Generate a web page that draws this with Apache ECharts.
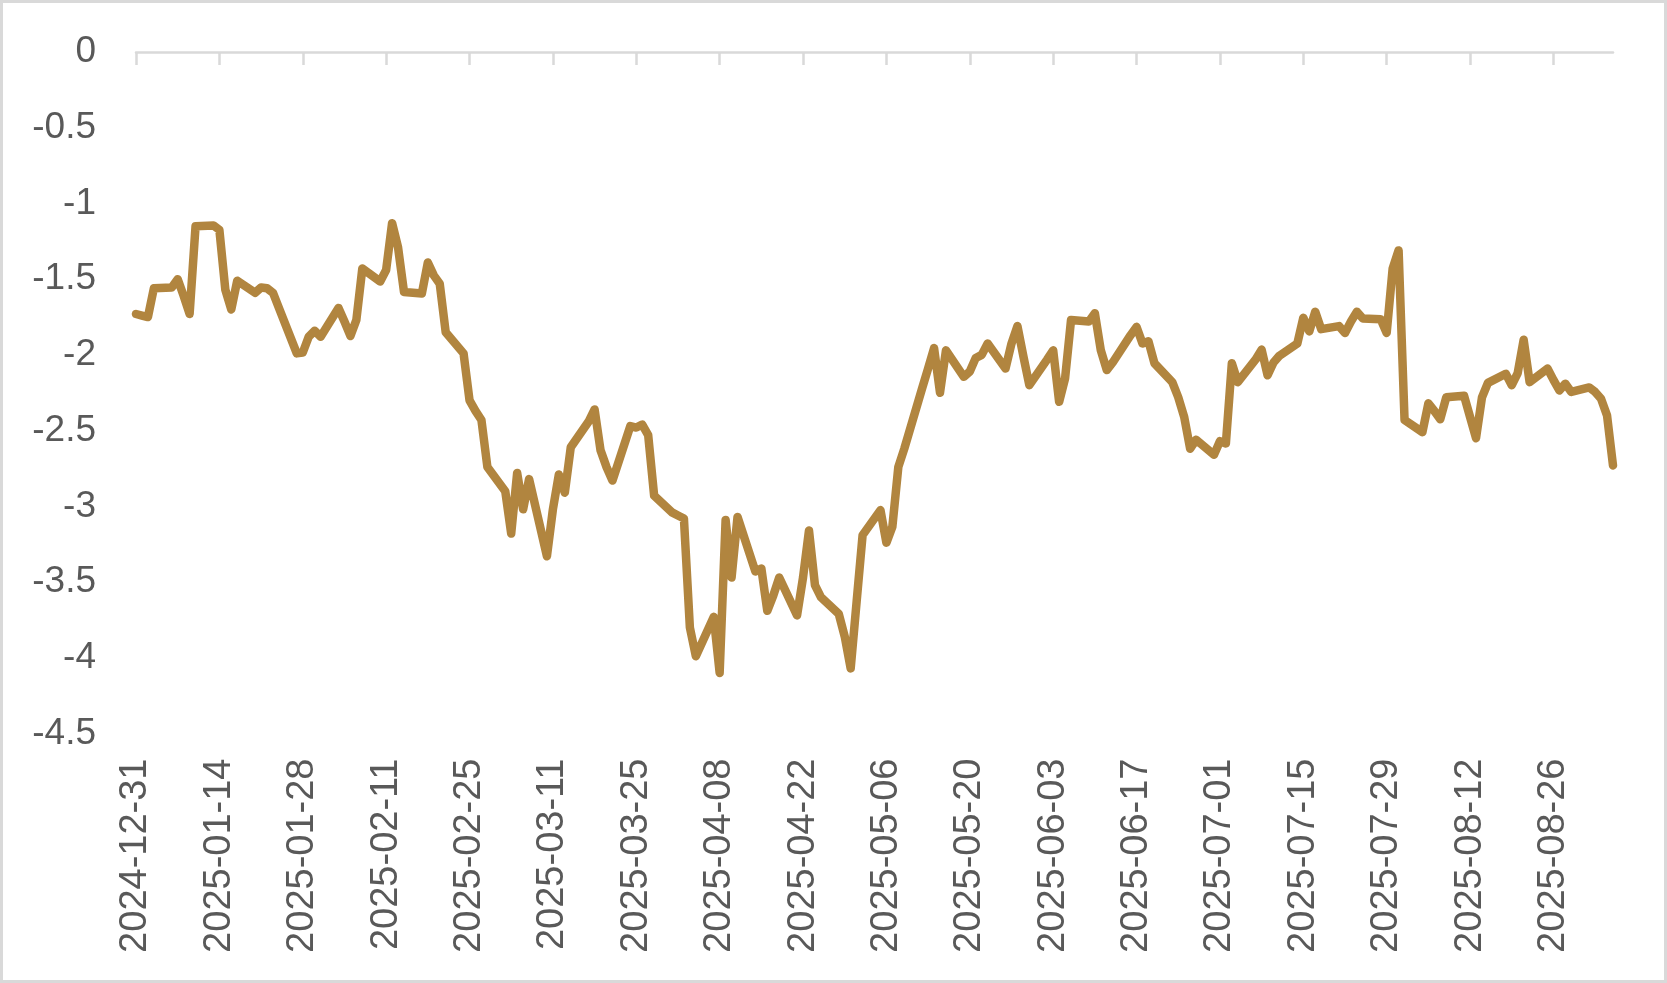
<!DOCTYPE html>
<html>
<head>
<meta charset="utf-8">
<title>spread</title>
<script src="https://cdn.jsdelivr.net/npm/echarts@6.0.0/dist/echarts.min.js"></script>
<style>
  html, body { margin: 0; padding: 0; background: #fff; }
  #wrap { position: relative; width: 1667px; height: 983px; }
  #chart { width: 1667px; height: 983px; }
  /* light grey frame round the whole picture */
  #frame {
    position: absolute; left: 0; top: 0; width: 1667px; height: 983px;
    box-sizing: border-box; border: 3px solid #d9d9d9; pointer-events: none;
  }
</style>
</head>
<body>
<div id="wrap">
  <div id="chart"></div>
  <div id="frame"></div>
</div>
<script>
// trading days (one week per line)
const dates = [
  '2024-12-31', '2025-01-01', '2025-01-02', '2025-01-03',
  '2025-01-06', '2025-01-07', '2025-01-08', '2025-01-09', '2025-01-10',
  '2025-01-13', '2025-01-14', '2025-01-15', '2025-01-16', '2025-01-17',
  '2025-01-20', '2025-01-21', '2025-01-22', '2025-01-23', '2025-01-24',
  '2025-01-27', '2025-01-28', '2025-01-29', '2025-01-30', '2025-01-31',
  '2025-02-03', '2025-02-04', '2025-02-05', '2025-02-06', '2025-02-07',
  '2025-02-10', '2025-02-11', '2025-02-12', '2025-02-13', '2025-02-14',
  '2025-02-17', '2025-02-18', '2025-02-19', '2025-02-20', '2025-02-21',
  '2025-02-24', '2025-02-25', '2025-02-26', '2025-02-27', '2025-02-28',
  '2025-03-03', '2025-03-04', '2025-03-05', '2025-03-06', '2025-03-07',
  '2025-03-10', '2025-03-11', '2025-03-12', '2025-03-13', '2025-03-14',
  '2025-03-17', '2025-03-18', '2025-03-19', '2025-03-20', '2025-03-21',
  '2025-03-24', '2025-03-25', '2025-03-26', '2025-03-27', '2025-03-28',
  '2025-03-31', '2025-04-01', '2025-04-02', '2025-04-03', '2025-04-04',
  '2025-04-07', '2025-04-08', '2025-04-09', '2025-04-10', '2025-04-11',
  '2025-04-14', '2025-04-15', '2025-04-16', '2025-04-17', '2025-04-18',
  '2025-04-21', '2025-04-22', '2025-04-23', '2025-04-24', '2025-04-25',
  '2025-04-28', '2025-04-29', '2025-04-30', '2025-05-01', '2025-05-02',
  '2025-05-05', '2025-05-06', '2025-05-07', '2025-05-08', '2025-05-09',
  '2025-05-12', '2025-05-13', '2025-05-14', '2025-05-15', '2025-05-16',
  '2025-05-19', '2025-05-20', '2025-05-21', '2025-05-22', '2025-05-23',
  '2025-05-26', '2025-05-27', '2025-05-28', '2025-05-29', '2025-05-30',
  '2025-06-02', '2025-06-03', '2025-06-04', '2025-06-05', '2025-06-06',
  '2025-06-09', '2025-06-10', '2025-06-11', '2025-06-12', '2025-06-13',
  '2025-06-16', '2025-06-17', '2025-06-18', '2025-06-19', '2025-06-20',
  '2025-06-23', '2025-06-24', '2025-06-25', '2025-06-26', '2025-06-27',
  '2025-06-30', '2025-07-01', '2025-07-02', '2025-07-03', '2025-07-04',
  '2025-07-07', '2025-07-08', '2025-07-09', '2025-07-10', '2025-07-11',
  '2025-07-14', '2025-07-15', '2025-07-16', '2025-07-17', '2025-07-18',
  '2025-07-21', '2025-07-22', '2025-07-23', '2025-07-24', '2025-07-25',
  '2025-07-28', '2025-07-29', '2025-07-30', '2025-07-31', '2025-08-01',
  '2025-08-04', '2025-08-05', '2025-08-06', '2025-08-07', '2025-08-08',
  '2025-08-11', '2025-08-12', '2025-08-13', '2025-08-14', '2025-08-15',
  '2025-08-18', '2025-08-19', '2025-08-20', '2025-08-21', '2025-08-22',
  '2025-08-25', '2025-08-26', '2025-08-27', '2025-08-28', '2025-08-29',
  '2025-09-01', '2025-09-02', '2025-09-03', '2025-09-04', '2025-09-05'
]

const values = [
  -1.73, -1.74, -1.75, -1.56,
  -1.555, -1.50, -1.61, -1.73, -1.15,
  -1.145, -1.175, -1.57, -1.70, -1.51,
  -1.59, -1.555, -1.56, -1.59, -1.69,
  -1.99, -1.985, -1.88, -1.84, -1.88,
  -1.69, -1.78, -1.875, -1.77, -1.43,
  -1.515, -1.44, -1.13, -1.29, -1.585,
  -1.595, -1.39, -1.475, -1.53, -1.85,
  -1.99, -2.30, -2.37, -2.43, -2.74,
  -2.90, -3.18, -2.78, -3.02, -2.82,
  -3.33, -3.02, -2.79, -2.91, -2.61,
  -2.44, -2.36, -2.63, -2.74, -2.83,
  -2.47, -2.48, -2.46, -2.53, -2.93,
  -3.04, -3.06, -3.08, -3.80, -3.99,
  -3.73, -4.10, -3.09, -3.47, -3.07,
  -3.43, -3.41, -3.69, -3.59, -3.47,
  -3.72, -3.47, -3.16, -3.52, -3.60,
  -3.71, -3.86, -4.07, -3.63, -3.19,
  -3.025, -3.24, -3.135, -2.74, -2.62,
  -2.22, -2.09, -1.955, -2.25, -1.97,
  -2.145, -2.11, -2.02, -2.00, -1.925,
  -2.09, -1.925, -1.81, -2.01, -2.20,
  -2.03, -1.97, -2.31, -2.155, -1.77,
  -1.78, -1.725, -1.97, -2.10, -2.05,
  -1.87, -1.815, -1.925, -1.91, -2.055,
  -2.18, -2.28, -2.41, -2.62, -2.56,
  -2.66, -2.57, -2.585, -2.055, -2.18,
  -2.03, -1.965, -2.135, -2.05, -2.005,
  -1.925, -1.755, -1.845, -1.715, -1.83,
  -1.81, -1.855, -1.78, -1.715, -1.76,
  -1.765, -1.855, -1.43, -1.31, -2.43,
  -2.51, -2.32, -2.37, -2.425, -2.28,
  -2.27, -2.41, -2.55, -2.28, -2.185,
  -2.125, -2.20, -2.12, -1.90, -2.18,
  -2.09, -2.165, -2.235, -2.19, -2.245,
  -2.215, -2.245, -2.29, -2.40, -2.73
]

// every two weeks, as on the original date axis
const tickDates = [
  '2024-12-31', '2025-01-14', '2025-01-28', '2025-02-11', '2025-02-25',
  '2025-03-11', '2025-03-25', '2025-04-08', '2025-04-22', '2025-05-06',
  '2025-05-20', '2025-06-03', '2025-06-17', '2025-07-01', '2025-07-15',
  '2025-07-29', '2025-08-12', '2025-08-26'
]

const startDate = '2024-12-31'
const endDate = '2025-09-05'

const DAY = 86400000
function utc(s) {
  const p = s.split('-')
  return Date.UTC(+p[0], +p[1] - 1, +p[2])
}
const base = utc(startDate)
// days since the first date, so the x axis is a plain value axis
function toDay(s) {
  return Math.round((utc(s) - base) / DAY)
}
function toLabel(day) {
  return new Date(base + Math.round(day) * DAY).toISOString().slice(0, 10)
}

const font = '"Liberation Sans", Arial, sans-serif'
const textGray = '#595959'
const axisGray = '#d9d9d9'
const tickDays = tickDates.map(toDay)
const maxDay = toDay(endDate)

const chart = echarts.init(document.getElementById('chart'))
chart.setOption({
  animation: false,
  grid: {
    left: 136,
    top: 52,
    width: 1477,
    height: 681.5,
    outerBoundsMode: 'none'
  },
  xAxis: [
    {
      // line and ticks sit on the zero line at the top
      type: 'value',
      position: 'top',
      min: 0,
      max: maxDay,
      axisLine: { show: true, onZero: false, lineStyle: { color: axisGray, width: 2.5 } },
      axisTick: {
        show: true,
        inside: true,
        length: 13,
        customValues: tickDays,
        lineStyle: { color: axisGray, width: 2.5 }
      },
      axisLabel: { show: false },
      splitLine: { show: false }
    },
    {
      // labels only, at the bottom
      type: 'value',
      position: 'bottom',
      min: 0,
      max: maxDay,
      axisLine: { show: false },
      axisTick: { show: false },
      splitLine: { show: false },
      axisLabel: {
        rotate: 90,
        margin: 25,
        // nudges the turned text a little to the right of its tick
        padding: [10, 0, 0, 0],
        customValues: tickDays,
        formatter: toLabel,
        fontSize: 38,
        fontFamily: font,
        color: textGray
      }
    }
  ],
  yAxis: {
    type: 'value',
    min: -4.5,
    max: 0,
    interval: 0.5,
    axisLine: { show: false },
    axisTick: { show: false },
    splitLine: { show: false },
    axisLabel: {
      margin: 40,
      fontSize: 37,
      fontFamily: font,
      color: textGray
    }
  },
  series: [{
    type: 'line',
    xAxisIndex: 0,
    data: dates.map((d, i) => [toDay(d), values[i]]),
    symbol: 'none',
    showSymbol: false,
    lineStyle: { color: '#B1853F', width: 8.5, cap: 'round', join: 'round' }
  }]
})
</script>
</body>
</html>
